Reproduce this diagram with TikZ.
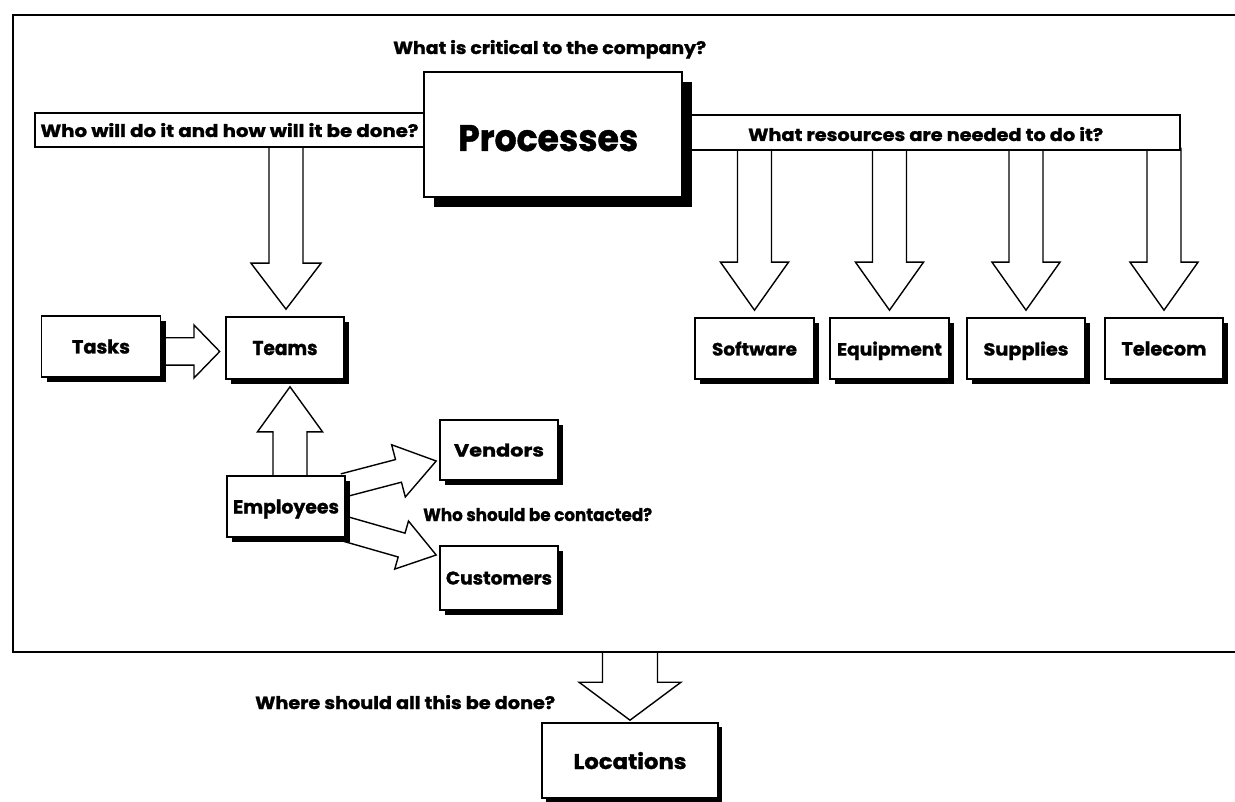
\documentclass[tikz,border=0pt]{standalone}
\usepackage{fontspec}
\setmainfont{Poppins}[BoldFeatures={FakeBold=1.2}]
\usetikzlibrary{calc,shadows}

\pgfdeclarelayer{paper}
\pgfdeclarelayer{arrowlayer}
\pgfsetlayers{paper,arrowlayer,main}

% bold label squeezed to a given width and height
\newcommand\lbl[3]{\resizebox{#1}{#2}{\bfseries #3}}

% hollow block arrow: #1 start, #2 tip, #3 half shaft, #4 half head, #5 head length
\newcommand\blockarrow[5]{%
  \coordinate (ba-c) at ($(#2)!#5!(#1)$);
  \coordinate (ba-1) at ($(#1)!#3!90:(#2)$);
  \coordinate (ba-2) at ($(ba-c)!#3!90:(#2)$);
  \coordinate (ba-3) at ($(ba-c)!#4!90:(#2)$);
  \coordinate (ba-4) at ($(ba-c)!#4!-90:(#2)$);
  \coordinate (ba-5) at ($(ba-c)!#3!-90:(#2)$);
  \coordinate (ba-6) at ($(#1)!#3!-90:(#2)$);
  \fill[white] (ba-1) -- (ba-2) -- (ba-3) -- (#2) -- (ba-4) -- (ba-5) -- (ba-6) -- cycle;
  \draw[arrowline] (ba-1) -- (ba-2) -- (ba-3) -- (#2) -- (ba-4) -- (ba-5) -- (ba-6);
}

\tikzset{
  box/.style={draw, line width=1.6pt, fill=white, inner sep=0pt, text depth=0pt,
    drop shadow={shadow xshift=#1, shadow yshift=-#1, opacity=1, fill=black}},
  box/.default=5pt,
  bar/.style={draw, line width=1.5pt, fill=white, inner sep=0pt, text depth=0pt},
  arrowline/.style={line width=1.4pt, line join=miter},
  frameline/.style={line width=1.6pt},
  caption/.style={anchor=base west, inner sep=0pt},
}

\begin{document}
\begin{tikzpicture}[x=1pt,y=-1pt]
\useasboundingbox (0,0) rectangle (1235,802);
\begin{pgfonlayer}{paper}
  \fill[white] (0,0) rectangle (1235,802);
\end{pgfonlayer}

% outer frame, open to the right
\coordinate (frameTL) at (13,15);
\coordinate (frameBL) at (13,652);
\draw[frameline] (1236,15) -- (frameTL) -- (frameBL) -- (1236,652);

% question bars and the central box
\node[bar, minimum width=389pt, minimum height=34pt] (whoBar) at (229.5,130)
  {\lbl{378pt}{14pt}{Who will do it and how will it be done?}};
\node[bar, minimum width=498pt, minimum height=35pt] (resBar) at (931,132.5) {};
\node[caption] (resq) at (748,141) {\lbl{355pt}{14pt}{What resources are needed to do it?}};
\node[box=10pt, minimum width=258pt, minimum height=125pt] (procs) at (553,134.5) {};
\node[caption] (procsLabel) at (458,151) {\lbl{180pt}{26pt}{Processes}};
\node[caption] (critical) at (393,54) {\lbl{313pt}{14pt}{What is critical to the company?}};

% left group
\node[box, minimum width=119pt, minimum height=61pt] (tasks) at (101,346.5) {\lbl{58pt}{14pt}{Tasks}};
\node[box, minimum width=118pt, minimum height=62pt] (teams) at (285,348) {\lbl{65pt}{14pt}{Teams}};
\node[box, minimum width=118pt, minimum height=61pt] (employees) at (286,506.5) {\lbl{106pt}{14pt}{Employees}};
\node[box, minimum width=118pt, minimum height=60pt] (vendors) at (499,450) {\lbl{90pt}{13pt}{Vendors}};
\node[box, minimum width=118pt, minimum height=64pt] (customers) at (499,578) {\lbl{106pt}{13pt}{Customers}};
\node[caption] (contact) at (423,521) {\lbl{229pt}{13pt}{Who should be contacted?}};

% resources
\node[box, minimum width=119pt, minimum height=61pt] (software) at (754.5,348.5) {\lbl{85pt}{14pt}{Software}};
\node[box, minimum width=119pt, minimum height=61pt] (equipment) at (889.5,348.5) {\lbl{105pt}{14pt}{Equipment}};
\node[box, minimum width=118pt, minimum height=61pt] (supplies) at (1026,348.5) {\lbl{85pt}{14pt}{Supplies}};
\node[box, minimum width=118pt, minimum height=61pt] (telecom) at (1164,348.5) {\lbl{85pt}{14pt}{Telecom}};

% locations
\node[box=4pt, minimum width=176pt, minimum height=75pt] (locations) at (630,760.5) {\lbl{113pt}{17pt}{Locations}};
\node[caption] (where) at (255,709) {\lbl{300pt}{14pt}{Where should all this be done?}};

% block arrows, kept behind the boxes
\begin{pgfonlayer}{arrowlayer}
  \coordinate (a1s) at ($(whoBar.south -| teams.north)+(1,-3)$);
  \coordinate (a1t) at ($(teams.north)+(1,-7)$);
  \blockarrow{a1s}{a1t}{17pt}{35pt}{46pt}

  \foreach \b in {software,equipment,supplies,telecom}{
    \coordinate (rs) at ($(resBar.south -| \b.north)+(0,-3)$);
    \coordinate (rt) at ($(\b.north)+(0,-7)$);
    \blockarrow{rs}{rt}{17pt}{34pt}{48pt}
  }

  \coordinate (a2t) at ($(teams.west)+(-5.5,3.5)$);
  \coordinate (a2s) at ($(tasks.east |- a2t)+(-3,0)$);
  \blockarrow{a2s}{a2t}{13.7pt}{26.5pt}{25.7pt}

  \coordinate (a3s) at ($(employees.north)+(4,3)$);
  \coordinate (a3t) at ($(teams.south)+(5,7)$);
  \blockarrow{a3s}{a3t}{17pt}{32.5pt}{45pt}

  \coordinate (a4s) at ($(employees.north east)+(-2,10)$);
  \coordinate (a4t) at ($(vendors.west)+(-3,11)$);
  \blockarrow{a4s}{a4t}{11.7pt}{27pt}{39pt}

  \coordinate (a5s) at ($(employees.east)+(-2,22)$);
  \coordinate (a5t) at ($(customers.west)+(-3,-23)$);
  \blockarrow{a5s}{a5t}{12.4pt}{25pt}{36pt}

  \coordinate (a6s) at (locations.north |- frameBL);
  \coordinate (a6t) at ($(locations.north)+(0,-2)$);
  \blockarrow{a6s}{a6t}{27.5pt}{51pt}{38pt}
\end{pgfonlayer}
\end{tikzpicture}
\end{document}
